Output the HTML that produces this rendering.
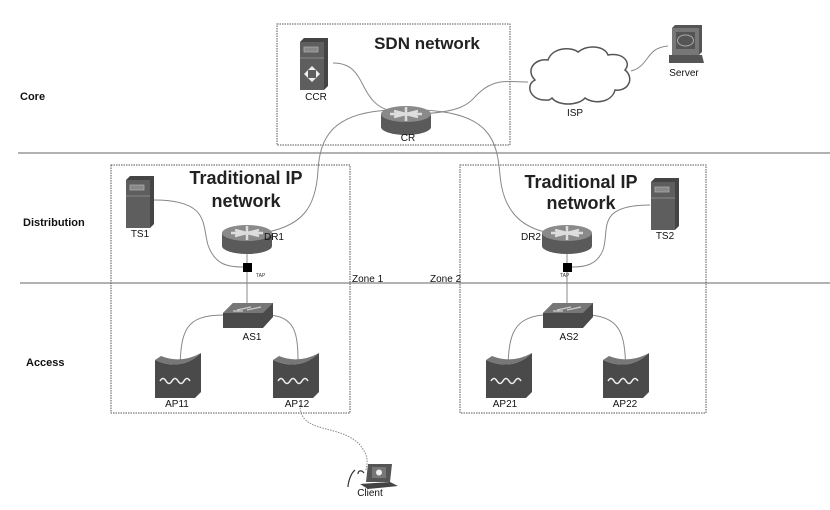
<!DOCTYPE html>
<html><head><meta charset="utf-8"><style>
html,body{margin:0;padding:0;background:#fff;}
svg{display:block;font-family:"Liberation Sans",Arial,sans-serif;}
</style></head><body>
<svg width="830" height="510" viewBox="0 0 830 510" xmlns="http://www.w3.org/2000/svg">
<defs>
<g id="router">
  <path d="M-25,-3 L-25,10 A25,8 0 0 0 25,10 L25,-3 Z" fill="#5a5a5a"/>
  <ellipse cx="0" cy="-3" rx="25" ry="8" fill="#8a8a8a"/>
  <path d="M-12,-6 L12,0 M12,-6 L-12,0 M0,-10 L0,4 M-16,-3 L16,-3" stroke="#ddd" stroke-width="2.5"/>
</g>
<g id="server">
  <path d="M0,4 L4,0 L28,0 L28,48 L24,52 L0,52 Z" fill="#444"/>
  <rect x="0" y="4" width="24" height="48" fill="#5e5e5e"/>
  <rect x="4" y="9" width="14" height="5" fill="#888" stroke="#aaa" stroke-width="0.8"/>
  <line x1="0" y1="20" x2="24" y2="20" stroke="#888" stroke-width="1"/>
</g>
<g id="switch">
  <path d="M-24,-2 L-14,-12 L26,-12 L26,2 L16,13 L-24,13 Z" fill="#4a4a4a"/>
  <path d="M-24,-2 L-14,-12 L26,-12 L16,-2 Z" fill="#777"/>
  <path d="M-10,-5 L4,-8 M0,-5 L14,-8 M-14,-4 L-4,-4" stroke="#ccc" stroke-width="1.2"/>
</g>
<g id="ap">
  <path d="M0,4 Q22,14 40,2 L46,-3 L46,36 L40,42 L0,42 Z" fill="#4a4a4a"/>
  <path d="M0,4 Q22,14 40,2 L46,-3 Q26,8 6,0 Z" fill="#777"/>
  <path d="M5,25 q3,-5 6,0 q3,5 6,0 q3,-5 6,0 q3,5 6,0 q3,-5 6,0" stroke="#eee" stroke-width="1.5" fill="none"/>
</g>
</defs>

<line x1="18" y1="153" x2="830" y2="153" stroke="#999" stroke-width="1.5"/>
<line x1="20" y1="283" x2="830" y2="283" stroke="#999" stroke-width="1.5"/>

<g font-weight="bold" font-size="11" fill="#111">
<text x="20" y="100">Core</text>
<text x="23" y="226">Distribution</text>
<text x="26" y="366">Access</text>
</g>

<g fill="none" stroke="#555" stroke-width="1" stroke-dasharray="1.5,1">
<rect x="277" y="24" width="233" height="121"/>
<rect x="111" y="165" width="239" height="248"/>
<rect x="460" y="165" width="246" height="248"/>
</g>

<g fill="none" stroke="#888" stroke-width="1">
<path d="M333,63 C370,63 355,105 395,112"/>
<path d="M418,114 C470,112 470,100 480,92 C495,78 510,82 528,82"/>
<path d="M631,71 C650,66 645,48 668,46"/>
<path d="M392,110 C330,112 320,140 318,170 C316,210 300,225 268,232"/>
<path d="M420,110 C490,112 497,140 500,175 C503,210 520,226 545,232"/>
<path d="M154,200 C210,200 202,225 208,245 C215,265 228,267 243,267"/>
<line x1="247" y1="248" x2="247" y2="303"/>
<path d="M650,205 C595,205 610,230 603,250 C597,265 585,267 572,267"/>
<line x1="567" y1="248" x2="567" y2="303"/>
<path d="M224,315 C185,315 180,330 180,375"/>
<path d="M270,315 C300,318 298,340 298,378"/>
<path d="M543,315 C510,318 508,340 508,377"/>
<path d="M590,315 C625,318 625,340 626,377"/>
<path d="M300,405 C300,435 340,423 360,445 C368,455 368,460 366,470" stroke-dasharray="1.5,1.2"/>
</g>

<g transform="translate(300,38)">
  <use href="#server"/>
  <g fill="#eee"><path d="M12,28 l-4,4 h8 Z M12,44 l-4,-4 h8 Z M4,36 l4,-4 v8 Z M20,36 l-4,-4 v8 Z"/></g>
</g>
<use href="#router" x="406" y="117"/>
<use href="#router" x="247" y="236"/>
<use href="#router" x="567" y="236"/>
<use href="#server" x="126" y="176"/>
<use href="#server" x="651" y="178"/>
<rect x="243" y="263" width="9" height="9" fill="#000"/>
<rect x="563" y="263" width="9" height="9" fill="#000"/>
<use href="#switch" x="247" y="315"/>
<use href="#switch" x="567" y="315"/>
<use href="#ap" x="155" y="356"/>
<use href="#ap" x="273" y="356"/>
<use href="#ap" x="486" y="356"/>
<use href="#ap" x="603" y="356"/>

<path d="M545,100 C530,100 525,85 535,80 C525,70 535,58 548,60 C552,48 570,46 578,52 C588,44 605,46 608,55 C622,52 632,62 625,70 C635,78 628,92 615,90 C612,102 595,105 585,98 C578,106 558,106 552,98 C549,101 547,100 545,100 Z" fill="#fff" stroke="#555" stroke-width="1.5"/>

<g transform="translate(672,25)">
  <path d="M0,3 L3,0 L30,0 L30,27 L27,30 L0,30 Z" fill="#555"/>
  <rect x="0" y="3" width="27" height="27" fill="#777"/>
  <rect x="4" y="7" width="19" height="17" fill="#555"/>
  <ellipse cx="13.5" cy="15.5" rx="8" ry="5.5" fill="none" stroke="#aaa"/>
  <path d="M-3,30 L30,30 L32,38 L-3,38 Z" fill="#555"/>
</g>

<g transform="translate(360,462)">
  <path d="M8,2 L32,2 L30,20 L6,20 Z" fill="#555"/>
  <rect x="12" y="5" width="14" height="11" fill="#777"/>
  <circle cx="19" cy="10.5" r="3" fill="#eee"/>
  <path d="M0,22 L30,20 L38,24 L8,27 Z" fill="#444"/>
  <path d="M-5,8 C-10,12 -12,22 -12,25 M-2,12 C-2,8 2,8 4,11" stroke="#333" fill="none" stroke-width="1.2"/>
</g>

<g font-size="10" fill="#111" text-anchor="middle">
<text x="316" y="100">CCR</text>
<text x="408" y="141">CR</text>
<text x="575" y="116">ISP</text>
<text x="684" y="76">Server</text>
<text x="140" y="237">TS1</text>
<text x="665" y="239">TS2</text>
<text x="274" y="240">DR1</text>
<text x="531" y="240">DR2</text>
<text x="252" y="340">AS1</text>
<text x="569" y="340">AS2</text>
<text x="177" y="407">AP11</text>
<text x="297" y="407">AP12</text>
<text x="505" y="407">AP21</text>
<text x="625" y="407">AP22</text>
<text x="370" y="496">Client</text>
</g>
<g font-size="10" fill="#111">
<text x="352" y="282">Zone 1</text>
<text x="430" y="282">Zone 2</text>
</g>
<g font-size="5" fill="#333">
<text x="256" y="277">TAP</text>
<text x="560" y="277">TAP</text>
</g>
<g font-weight="bold" fill="#222" text-anchor="middle">
<text x="427" y="49" font-size="17">SDN network</text>
<text x="246" y="184" font-size="18">Traditional IP</text>
<text x="246" y="207" font-size="18">network</text>
<text x="581" y="188" font-size="18">Traditional IP</text>
<text x="581" y="209" font-size="18">network</text>
</g>
</svg>
</body></html>
